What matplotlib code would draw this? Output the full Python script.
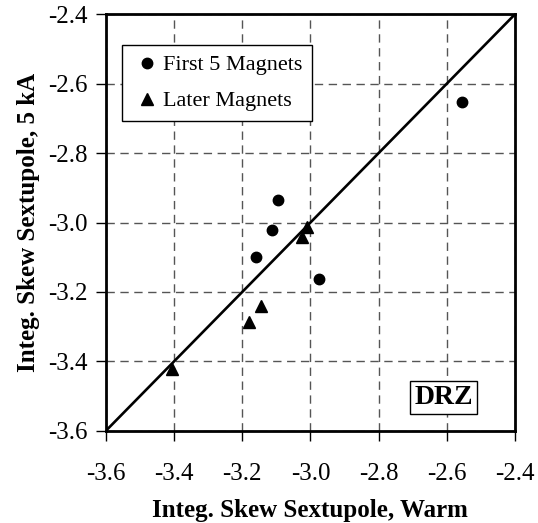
import matplotlib
matplotlib.use("Agg")
import matplotlib.pyplot as plt

# values
first5_warm = [-2.556, -3.095, -3.112, -3.161, -2.974]
first5_cold = [-2.653, -2.935, -3.021, -3.100, -3.163]
later_warm = [-3.010, -3.024, -3.144, -3.180, -3.406]
later_cold = [-3.012, -3.041, -3.241, -3.288, -3.421]
ticks = [-3.6, -3.4, -3.2, -3.0, -2.8, -2.6, -2.4]
tick_labels = ["-3.6", "-3.4", "-3.2", "-3.0", "-2.8", "-2.6", "-2.4"]

plt.rcParams['font.family'] = ['Liberation Serif', 'DejaVu Serif']

fig = plt.figure(figsize=(5.38, 5.23), dpi=100)
ax = fig.add_axes([0.197, 0.1765, 0.760, 0.796])

# y = x reference line
ax.plot([ticks[0], ticks[-1]], [ticks[0], ticks[-1]], color='black', lw=1.9, zorder=3)

ax.plot(first5_warm, first5_cold, 'o', color='black', ms=7.5, label='First 5 Magnets', zorder=4)
ax.plot(later_warm, later_cold, '^', color='black', ms=8.5, label='Later Magnets', zorder=4)

ax.set_xlim(ticks[0], ticks[-1])
ax.set_ylim(ticks[0], ticks[-1])
ax.set_xticks(ticks)
ax.set_xticklabels(tick_labels)
ax.set_yticks(ticks)
ax.set_yticklabels(tick_labels)
ax.tick_params(direction='out', length=7, width=1, labelsize=18, colors='black')
ax.tick_params(axis='x', pad=16)
ax.tick_params(axis='y', pad=6)

ax.grid(True, color='#555555', lw=1, linestyle=(0, (6, 4)))
ax.set_axisbelow(True)
for s in ax.spines.values():
    s.set_linewidth(2)

ax.set_xlabel('Integ. Skew Sextupole, Warm', fontsize=18, fontweight='bold', labelpad=10)
ax.set_ylabel('Integ. Skew Sextupole, 5 kA', fontsize=18, fontweight='bold', labelpad=6)

leg = ax.legend(loc='upper left', bbox_to_anchor=(0.038, 0.927), borderaxespad=0, fontsize=16,
                frameon=True, fancybox=False, edgecolor='black', framealpha=1,
                handlelength=1.35, handletextpad=0.05, borderpad=0.45, labelspacing=0.7)
leg.get_frame().set_linewidth(1)

ax.text(0.826, 0.08, 'DRZ', transform=ax.transAxes, fontsize=20, fontweight='bold',
        ha='center', va='center', zorder=5,
        bbox=dict(boxstyle='square,pad=0.15', facecolor='white', edgecolor='black', lw=1))

fig.savefig('out.png', dpi=100)
